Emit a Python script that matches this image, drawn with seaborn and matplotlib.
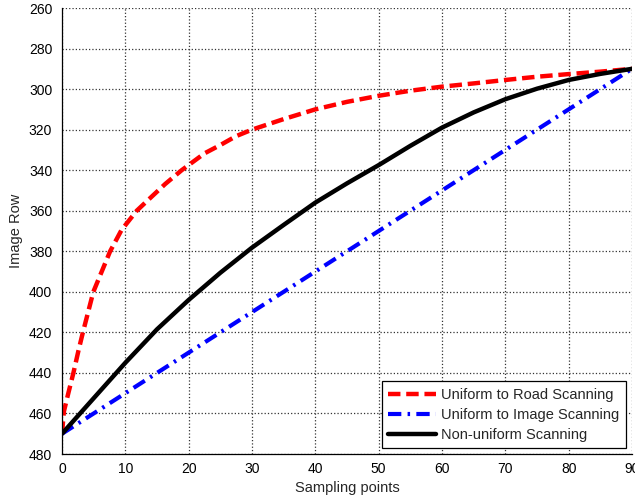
import matplotlib
matplotlib.use("Agg")
import matplotlib.pyplot as plt
import seaborn as sns
import pandas as pd

# ---- data ----
road_x = [0, 0.3, 1.0, 1.8, 2.6, 3.3, 4.95, 7.6, 9.4, 11.8, 13.6, 16.3, 18.9, 22.5, 25,
          27.5, 30, 35, 40, 45, 50, 55, 60, 65, 70, 75, 80, 85, 90]
road_y = [470, 459, 450, 440, 429, 420, 400, 380, 369.5, 360, 354.7, 346.8, 340, 331.7, 327.6,
          323.2, 320, 314.8, 310, 306.3, 303.3, 300.8, 298.8, 297.2, 295.5, 293.9, 292.6, 291.4, 290]

image_x = [0, 10, 20, 30, 40, 50, 60, 70, 80, 90]
image_y = [470, 450, 430, 410, 390, 370, 350, 330, 310, 290]

nonuni_x = [0, 5, 10, 15, 20, 25, 30, 35, 40, 45, 50, 55, 60, 65, 70, 75, 80, 85, 90]
nonuni_y = [470, 452.5, 435, 418.5, 404, 390.6, 378.2, 367, 356, 346.5, 337.5, 328, 319,
            311.5, 305, 299.8, 295.5, 292.5, 290]

labels = ["Uniform to Road Scanning", "Uniform to Image Scanning", "Non-uniform Scanning"]
x_ticks = [0, 10, 20, 30, 40, 50, 60, 70, 80, 90]
y_ticks = [260, 280, 300, 320, 340, 360, 380, 400, 420, 440, 460, 480]

sns.set_theme(style="white")
plt.rcParams['font.family'] = ['Liberation Sans', 'DejaVu Sans']
plt.rcParams['xtick.direction'] = 'in'
plt.rcParams['ytick.direction'] = 'in'

fig = plt.figure(figsize=(6.35, 5.01), dpi=100)
ax = fig.add_axes([62/635, 47/501, (632-62)/635, (454-8)/501])

df_road = pd.DataFrame({"x": road_x, "y": road_y})
df_img = pd.DataFrame({"x": image_x, "y": image_y})
df_non = pd.DataFrame({"x": nonuni_x, "y": nonuni_y})

sns.lineplot(data=df_road, x="x", y="y", ax=ax, color="#ff0000", lw=3.2,
             linestyle=(0, (2.8, 1.3)), label=labels[0], sort=False)
sns.lineplot(data=df_img, x="x", y="y", ax=ax, color="#0000ff", lw=3.0,
             linestyle=(0, (3.2, 1.5, 0.6, 1.5)), label=labels[1], sort=False)
sns.lineplot(data=df_non, x="x", y="y", ax=ax, color="#000000", lw=3.2,
             linestyle="-", label=labels[2], sort=False)

ax.set_xlim(0, 90)
ax.set_ylim(480, 260)
ax.set_xticks(x_ticks)
ax.set_yticks(y_ticks)
ax.tick_params(axis='both', labelsize=10, length=4, width=0.8, colors='black')
ax.tick_params(axis='x', pad=5.5)
ax.tick_params(axis='y', pad=7)
ax.grid(True, linestyle=':', color='#333333', linewidth=0.9)
ax.set_axisbelow(True)

for s in ['top', 'right']:
    ax.spines[s].set_visible(False)
for s in ['left', 'bottom']:
    ax.spines[s].set_color('black')
    ax.spines[s].set_linewidth(0.9)

ax.set_xlabel("Sampling points", fontsize=10.5, labelpad=4)
ax.set_ylabel("Image Row", fontsize=10.5, labelpad=4)

leg = ax.legend(loc='lower right', fontsize=10.5, frameon=True, fancybox=False,
                edgecolor='black', framealpha=1, borderpad=0.45, labelspacing=0.4,
                handlelength=3.3, handletextpad=0.35, borderaxespad=0.4)
leg.get_frame().set_linewidth(0.9)

fig.savefig("out.png", dpi=100)
